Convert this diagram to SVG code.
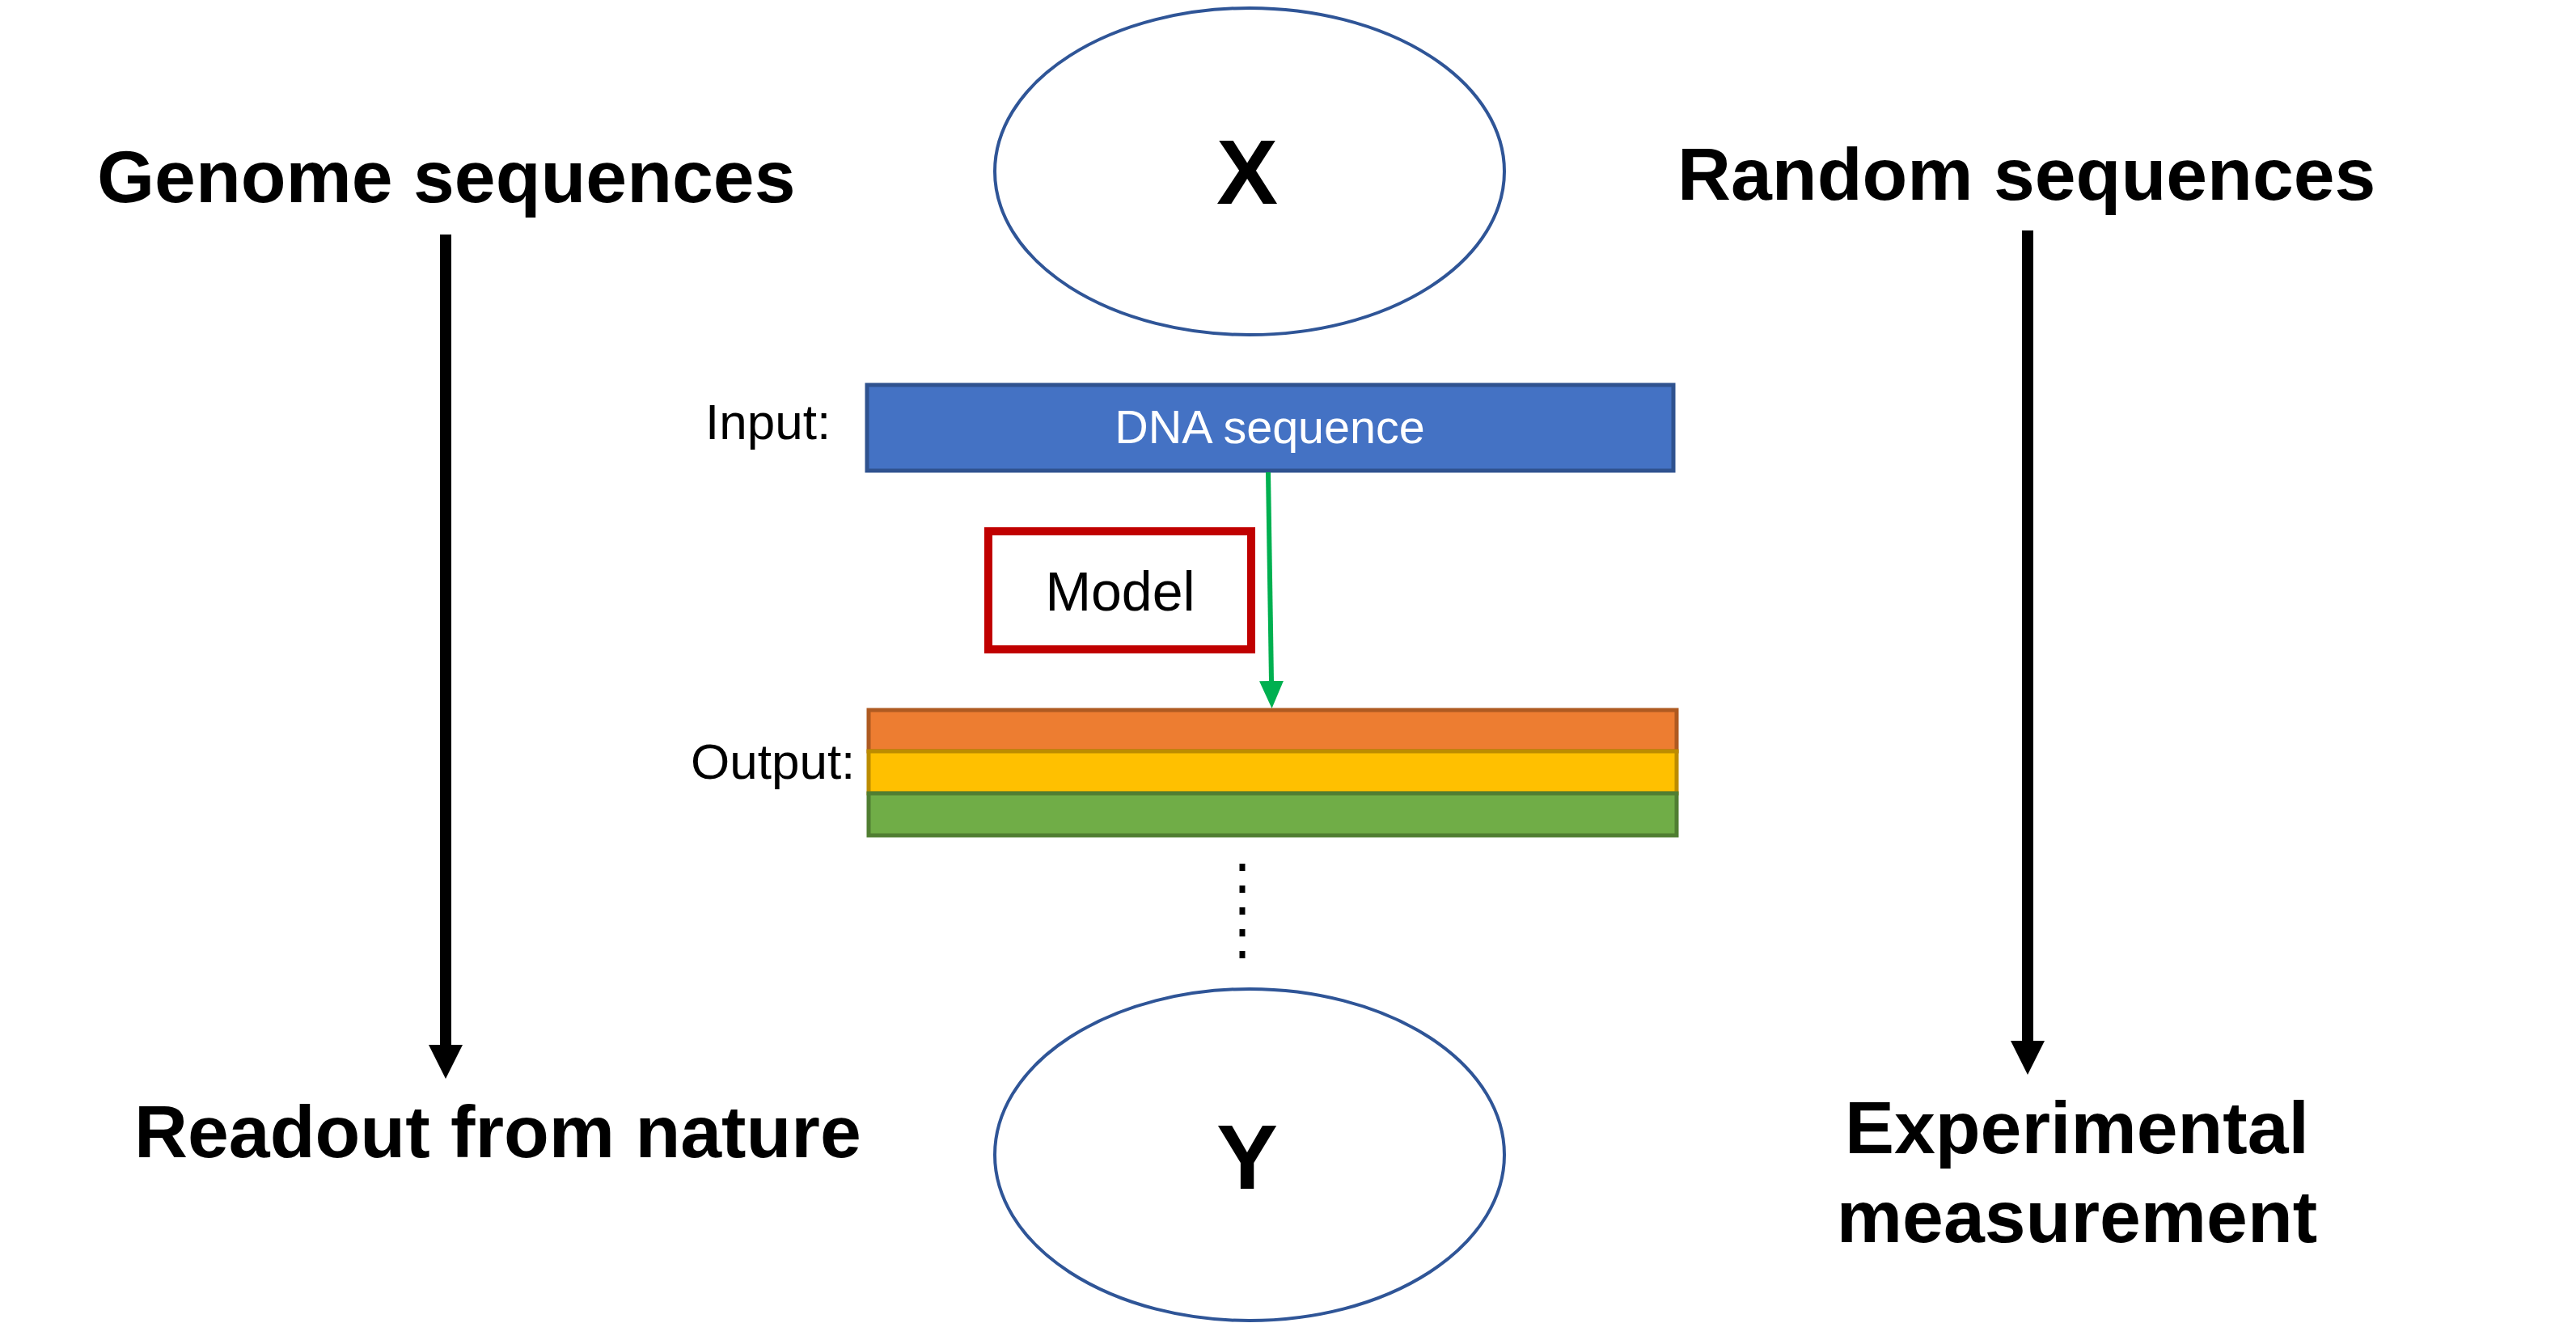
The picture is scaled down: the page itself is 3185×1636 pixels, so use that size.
<svg xmlns="http://www.w3.org/2000/svg" width="3185" height="1636" viewBox="0 0 3185 1636">
<style>
.big{font-family:"Liberation Sans",Arial,sans-serif;font-weight:bold;font-size:91.4px;fill:#000}
.letter{font-family:"Liberation Sans",Arial,sans-serif;font-weight:bold;font-size:114px;fill:#000;text-anchor:middle}
.lbl{font-family:"Liberation Sans",Arial,sans-serif;font-size:62px;fill:#000}
.ell{fill:#fff;stroke:#2F5597;stroke-width:4}
.blk{stroke:#000;stroke-width:14;fill:none}
</style>
<defs>
<marker id="ah" markerUnits="userSpaceOnUse" markerWidth="42" markerHeight="42" viewBox="0 0 42 42" refX="0" refY="21" orient="auto"><path d="M0,0 L42,21 L0,42 z" fill="#000"/></marker>
<marker id="gh" markerUnits="userSpaceOnUse" markerWidth="34" markerHeight="30" viewBox="0 0 34 30" refX="0" refY="15" orient="auto"><path d="M0,0 L34,15 L0,30 z" fill="#00B050"/></marker>
</defs>
<rect width="3185" height="1636" fill="#fff"/>
<g id="genome"><text class="big" x="120" y="250">Genome sequences</text></g>
<g id="random"><text class="big" x="2074" y="247">Random sequences</text></g>
<g id="readout"><text class="big" x="166" y="1431">Readout from nature</text></g>
<g id="experimental"><text class="big" text-anchor="middle" x="2568" y="1426">Experimental</text><text class="big" text-anchor="middle" x="2568" y="1536">measurement</text></g>
<g id="X"><ellipse class="ell" cx="1545" cy="212" rx="315" ry="202"/><text class="letter" x="1542" y="252">X</text></g>
<g id="Y"><ellipse class="ell" cx="1545" cy="1428" rx="315" ry="205"/><text class="letter" x="1542" y="1470">Y</text></g>
<g id="input"><text class="lbl" x="872" y="543">Input:</text><rect x="1072" y="476" width="997" height="106" fill="#4472C4" stroke="#2F528F" stroke-width="5"/><text x="1570" y="548" text-anchor="middle" font-family="Liberation Sans, Arial, sans-serif" font-size="57.5" fill="#fff">DNA sequence</text></g>
<g id="model"><rect x="1222" y="657" width="325" height="146" fill="#fff" stroke="#C00000" stroke-width="10"/><text x="1385" y="755" text-anchor="middle" font-family="Liberation Sans, Arial, sans-serif" font-size="68" fill="#000">Model</text></g>
<g id="output"><text class="lbl" x="854" y="963" font-size="64">Output:</text>
<rect x="1074" y="878" width="999" height="51" fill="#ED7D31" stroke="#AE5A21" stroke-width="5"/>
<rect x="1074" y="929" width="999" height="52" fill="#FFC000" stroke="#BC8C00" stroke-width="5"/>
<rect x="1074" y="981" width="999" height="52" fill="#70AD47" stroke="#507E32" stroke-width="5"/></g>
<g id="connectors">
<line class="blk" x1="551" y1="290" x2="551" y2="1292" marker-end="url(#ah)"/>
<line class="blk" x1="2507" y1="285" x2="2507" y2="1287" marker-end="url(#ah)"/>
<line x1="1568" y1="584" x2="1572" y2="842" stroke="#00B050" stroke-width="6" marker-end="url(#gh)"/>
<line x1="1536" y1="1068" x2="1536" y2="1186" stroke="#000" stroke-width="7" stroke-dasharray="9 18"/>
</g>
</svg>
